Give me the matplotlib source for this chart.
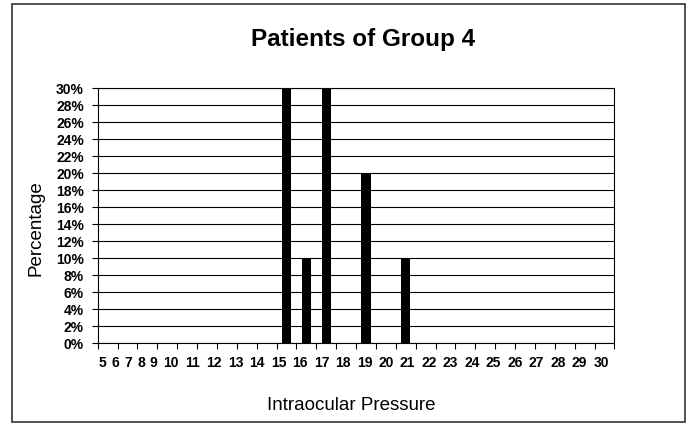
import matplotlib
matplotlib.use("Agg")
import matplotlib.pyplot as plt
from matplotlib.patches import Rectangle

# ---- data ----
pressure_labels = [str(v) for v in range(5, 31)]
pressures = [15, 16, 17, 19, 21]
percentages = [30, 10, 30, 20, 10]
y_ticks = list(range(0, 31, 2))
y_tick_labels = [f"{v}%" for v in y_ticks]
title = "Patients of Group 4"
x_title = "Intraocular Pressure"
y_title = "Percentage"

plt.rcParams['font.family'] = ['Liberation Sans', 'DejaVu Sans']

W, H = 690, 425
fig = plt.figure(figsize=(W / 100, H / 100), dpi=100)

# outer frame
fig.patches.append(Rectangle((11.5 / W, 1 - 422 / H), (685 - 11.5) / W, (422 - 4) / H,
                             transform=fig.transFigure, fill=False,
                             edgecolor='#333333', linewidth=1.2))

left, right, top, bottom = 97.7, 614.5, 88.3, 343.3
ax = fig.add_axes([left / W, 1 - bottom / H, (right - left) / W, (bottom - top) / H])

# bars: each pressure occupies the bin just left of its boundary tick
ax.bar([p - 0.5 for p in pressures], percentages, width=0.47, color='black', zorder=3)

ax.set_xlim(5, 31)
ax.set_ylim(0, 30)

# horizontal grid lines
ax.set_yticks(y_ticks)
ax.set_yticklabels(y_tick_labels, fontsize=10, fontweight='bold')
ax.yaxis.grid(True, color='black', linewidth=0.8, zorder=1)
ax.set_axisbelow(True)
ax.tick_params(axis='y', direction='out', length=4, width=0.8, pad=6)

# category boundary ticks
ax.set_xticks(list(range(5, 32)))
ax.set_xticklabels([])
ax.tick_params(axis='x', which='major', direction='out', length=4, width=0.8)

# label row laid out as a run of text
cw, gap = 0.4375, 0.2065
pos = []
x = 5.25
for i, lab in enumerate(pressure_labels):
    if i > 0:
        x += (len(pressure_labels[i - 1]) + len(lab)) / 2 * cw + gap
    pos.append(x)
ax.set_xticks(pos, minor=True)
ax.set_xticklabels(pressure_labels, minor=True, fontsize=10, fontweight='bold')
ax.tick_params(axis='x', which='minor', length=0, pad=9)

for s in ax.spines.values():
    s.set_color('black')
    s.set_linewidth(0.8)

fig.text(362.8 / W, 1 - 46 / H, title, ha='center', va='baseline',
         fontsize=17.5, fontweight='bold')
fig.text(351.7 / W, 1 - 410 / H, x_title, ha='center', va='baseline', fontsize=13.5)
fig.text(36 / W, 1 - 228 / H, y_title, ha='center', va='center', rotation=90, fontsize=13.5)

fig.savefig("out.png", dpi=100)
